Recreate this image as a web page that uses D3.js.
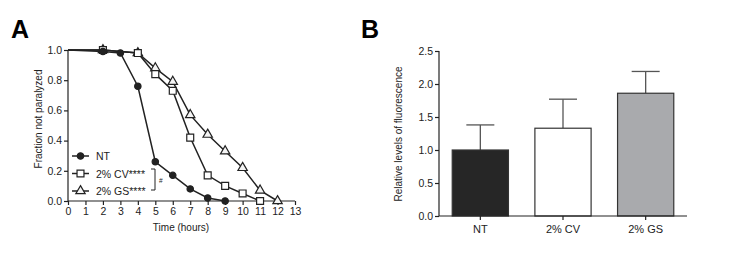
<!DOCTYPE html>
<html>
<head>
<meta charset="utf-8">
<script src="https://cdn.jsdelivr.net/npm/d3@7"></script>
<style>
  body { margin: 0; background: #fff; }
  svg { font-family: "Liberation Sans", Arial, sans-serif; }
  .axis text { font-size: 10.5px; fill: #222; }
  .axis path, .axis line { stroke: #222; stroke-width: 1.2; }
</style>
</head>
<body>
<div id="chart"></div>
<script>
// panel A: survival curves
var hoursNT = [0, 2, 3, 4, 5, 6, 7, 8, 9];
var fracNT  = [1.0, 0.99, 0.98, 0.76, 0.26, 0.17, 0.08, 0.02, 0.0];
var hoursCV = [0, 2, 4, 5, 6, 7, 8, 9, 10, 11];
var fracCV  = [1.0, 1.0, 0.98, 0.84, 0.73, 0.42, 0.17, 0.10, 0.05, 0.0];
var hoursGS = [0, 2, 4, 5, 6, 7, 8, 9, 10, 11, 12];
var fracGS  = [1.0, 1.0, 0.98, 0.88, 0.79, 0.57, 0.44, 0.33, 0.22, 0.07, 0.0];
var seriesNames = ["NT", "2% CV****", "2% GS****"];

// panel B: fluorescence
var groups = ["NT", "2% CV", "2% GS"];
var meanFluo = [1.0, 1.33, 1.86];
var errFluo = [0.38, 0.44, 0.33];
var barColors = ["#262626", "#ffffff", "#a9aaad"];

var svg = d3.select("#chart").append("svg")
    .attr("width", 737)
    .attr("height", 260);

// ---------- A ----------
var xA = d3.scaleLinear().domain([0, 13]).range([68, 295]);
var yA = d3.scaleLinear().domain([0, 1]).range([201, 50]);

svg.append("text").attr("x", 11).attr("y", 38)
    .style("font-size", "25px").style("font-weight", "bold").text("A");

svg.append("g").attr("class", "axis")
    .attr("transform", "translate(0,201)")
    .call(d3.axisBottom(xA).tickValues(d3.range(0, 14)).tickSize(4).tickPadding(3).tickFormat(d3.format("d")))
    .select(".domain").remove();

svg.append("g").attr("class", "axis")
    .attr("transform", "translate(68,0)")
    .call(d3.axisLeft(yA).tickValues([0, 0.2, 0.4, 0.6, 0.8, 1.0]).tickSize(4).tickPadding(2).tickFormat(d3.format(".1f")))
    .select(".domain").remove();

svg.append("line").attr("x1", 68).attr("x2", 295).attr("y1", 201).attr("y2", 201).attr("stroke", "#222").attr("stroke-width", 1.2);
svg.append("line").attr("x1", 68).attr("x2", 68).attr("y1", 50).attr("y2", 201).attr("stroke", "#222").attr("stroke-width", 1.2);

svg.append("text").attr("transform", "translate(42,119) rotate(-90)")
    .attr("text-anchor", "middle").style("font-size", "10px").attr("fill", "#222")
    .text("Fraction not paralyzed");
svg.append("text").attr("x", 181).attr("y", 231)
    .attr("text-anchor", "middle").style("font-size", "10px").attr("fill", "#222")
    .text("Time (hours)");

var lineA = d3.line().x(d => xA(d[0])).y(d => yA(d[1]));
var curves = [
  d3.zip(hoursNT, fracNT),
  d3.zip(hoursCV, fracCV),
  d3.zip(hoursGS, fracGS)
];
var shapes = [d3.symbolCircle, d3.symbolSquare, d3.symbolTriangle];
var shapeSize = [32, 48, 38];
var shapeFill = ["#222", "#fff", "#f4f4f4"];

// draw GS first so NT sits on top
[2, 1, 0].forEach(function(i) {
  svg.append("path").datum(curves[i])
      .attr("d", lineA).attr("fill", "none")
      .attr("stroke", "#222").attr("stroke-width", 1.5);
  svg.selectAll(".pt" + i).data(curves[i].filter(d => d[0] > 0))
    .enter().append("path")
      .attr("class", "pt" + i)
      .attr("transform", d => "translate(" + xA(d[0]) + "," + yA(d[1]) + ")")
      .attr("d", d3.symbol().type(shapes[i]).size(shapeSize[i]))
      .attr("fill", shapeFill[i]).attr("stroke", "#222").attr("stroke-width", 1.2);
});

// legend
var legend = svg.append("g");
seriesNames.forEach(function(name, i) {
  var ly = 156 + i * 17.5;
  legend.append("line").attr("x1", 72).attr("x2", 89).attr("y1", ly).attr("y2", ly)
      .attr("stroke", "#222").attr("stroke-width", 1.5);
  legend.append("path").attr("transform", "translate(80.5," + ly + ")")
      .attr("d", d3.symbol().type(shapes[i]).size(shapeSize[i]))
      .attr("fill", shapeFill[i]).attr("stroke", "#222").attr("stroke-width", 1.2);
  legend.append("text").attr("x", 96).attr("y", ly + 4)
      .style("font-size", "10.5px").attr("fill", "#222").text(name);
});
legend.append("path").attr("d", "M151,169H155V190H151")
    .attr("fill", "none").attr("stroke", "#222").attr("stroke-width", 1);
legend.append("text").attr("x", 159).attr("y", 183)
    .style("font-size", "6.5px").attr("fill", "#222").text("#");

// ---------- B ----------
var xB = d3.scaleBand().domain(groups).range([439, 687]).paddingInner(0.32).paddingOuter(0.16);
var yB = d3.scaleLinear().domain([0, 2.5]).range([216, 51]);

svg.append("text").attr("x", 361).attr("y", 38)
    .style("font-size", "25px").style("font-weight", "bold").text("B");

var barData = groups.map((g, i) => ({key: g, value: meanFluo[i], err: errFluo[i], color: barColors[i]}));

// error bars (upper only)
var errG = svg.append("g");
errG.selectAll("line.v").data(barData).enter().append("line")
    .attr("x1", d => xB(d.key) + xB.bandwidth() / 2)
    .attr("x2", d => xB(d.key) + xB.bandwidth() / 2)
    .attr("y1", d => yB(d.value))
    .attr("y2", d => yB(d.value + d.err))
    .attr("stroke", "#555").attr("stroke-width", 1.3);
errG.selectAll("line.c").data(barData).enter().append("line")
    .attr("x1", d => xB(d.key) + xB.bandwidth() / 2 - 14)
    .attr("x2", d => xB(d.key) + xB.bandwidth() / 2 + 14)
    .attr("y1", d => yB(d.value + d.err))
    .attr("y2", d => yB(d.value + d.err))
    .attr("stroke", "#555").attr("stroke-width", 1.3);

svg.selectAll("rect.bar").data(barData).enter().append("rect")
    .attr("class", "bar")
    .attr("x", d => xB(d.key))
    .attr("width", xB.bandwidth())
    .attr("y", d => yB(d.value))
    .attr("height", d => yB(0) - yB(d.value))
    .attr("fill", d => d.color)
    .attr("stroke", "#333").attr("stroke-width", 1.2);

svg.append("g").attr("class", "axis")
    .attr("transform", "translate(439,0)")
    .call(d3.axisLeft(yB).tickValues([0, 0.5, 1, 1.5, 2, 2.5]).tickSize(4).tickPadding(2).tickFormat(d3.format(".1f")))
    .select(".domain").remove();
svg.append("line").attr("x1", 439).attr("x2", 439).attr("y1", 51).attr("y2", 216).attr("stroke", "#222").attr("stroke-width", 1.2);

var xAxB = svg.append("g").attr("class", "axis")
    .attr("transform", "translate(0,216)")
    .call(d3.axisBottom(xB).tickSize(4).tickPadding(5));
xAxB.select(".domain").remove();
xAxB.selectAll("text").style("font-size", "11px");
svg.append("line").attr("x1", 439).attr("x2", 687).attr("y1", 216).attr("y2", 216).attr("stroke", "#222").attr("stroke-width", 1.2);

svg.append("text").attr("transform", "translate(402,134) rotate(-90)")
    .attr("text-anchor", "middle").style("font-size", "10px").attr("fill", "#222")
    .text("Relative levels of fluorescence");
</script>
</body>
</html>
